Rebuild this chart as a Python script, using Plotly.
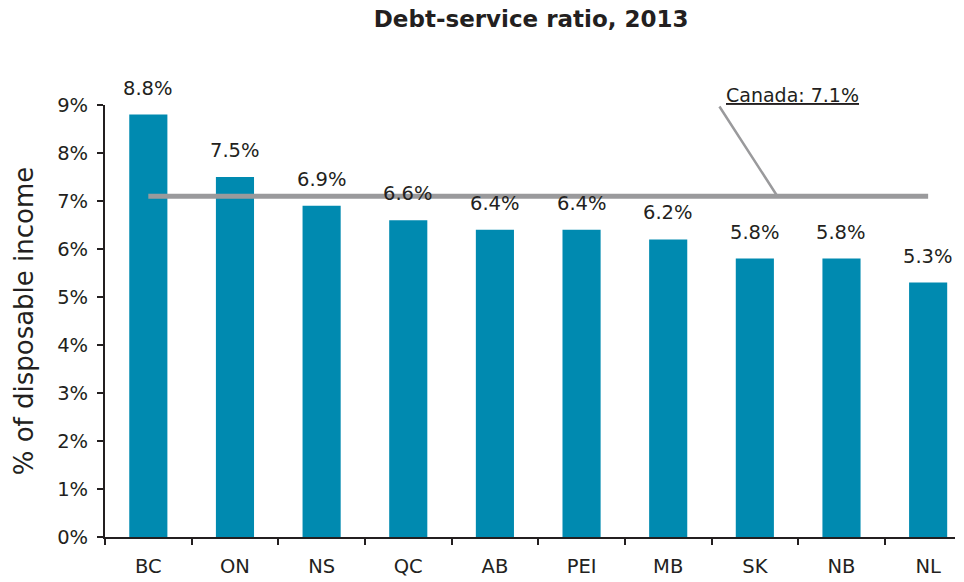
import plotly.graph_objects as go

provinces = ["BC", "ON", "NS", "QC", "AB", "PEI", "MB", "SK", "NB", "NL"]
debt_service = [8.8, 7.5, 6.9, 6.6, 6.4, 6.4, 6.2, 5.8, 5.8, 5.3]
canada_avg = 7.1
y_ticks = [0, 1, 2, 3, 4, 5, 6, 7, 8, 9]

text_color = "#231F20"
bar_color = "#008AB0"
line_color = "#9A9A9C"
font_family = "'DejaVu Sans', sans-serif"

fig = go.Figure()

fig.add_trace(go.Bar(
    x=provinces, y=debt_service,
    marker=dict(color=bar_color, line=dict(width=0)),
    hoverinfo="skip",
))

# national average line across province centres
fig.add_trace(go.Scatter(
    x=[provinces[0], provinces[-1]], y=[canada_avg, canada_avg],
    mode="lines", line=dict(color=line_color, width=5),
    hoverinfo="skip",
))

# value labels above bars
for p, v in zip(provinces, debt_service):
    fig.add_annotation(
        x=p, y=v, text=f"{v:.1f}%", showarrow=False,
        yanchor="bottom", yshift=13,
        font=dict(size=19.5, color=text_color, family=font_family),
    )

# leader for the national average label
fig.add_annotation(
    x=7.26, y=canada_avg, ax=6.58, ay=9.0, axref="x", ayref="y",
    xref="x", yref="y", text="", showarrow=True, arrowhead=0,
    arrowwidth=2.5, arrowcolor=line_color, standoff=0, startstandoff=0,
)
fig.add_annotation(
    x=6.64, y=9.0, xref="x", yref="y", text="<u>Canada: 7.1%</u>",
    showarrow=False, xanchor="left", yanchor="bottom", yshift=-3,
    font=dict(size=19, color=text_color, family=font_family),
)

fig.update_layout(
    width=964, height=582,
    margin=dict(l=105, r=9, t=105, b=45, autoexpand=False),
    plot_bgcolor="white", paper_bgcolor="white",
    showlegend=False, bargap=0.56,
    title=dict(
        text="<b>Debt-service ratio, 2013</b>", x=0.551, xanchor="center",
        y=0.968, yanchor="middle",
        font=dict(size=23, color=text_color, family=font_family),
    ),
    font=dict(family=font_family, color=text_color),
)

fig.update_xaxes(
    type="category", range=[-0.5, 9.31], automargin=False,
    showline=True, linecolor=text_color, linewidth=2,
    ticks="outside", tickson="boundaries", ticklen=6, tickwidth=2,
    tickcolor=text_color, showgrid=False, ticklabelstandoff=11,
    tickfont=dict(size=19.5, color=text_color, family=font_family),
)
fig.update_yaxes(
    range=[0, 9], tickvals=y_ticks, ticktext=[f"{t}%" for t in y_ticks],
    showline=True, linecolor=text_color, linewidth=2, automargin=False,
    ticks="outside", ticklen=6, tickwidth=2, tickcolor=text_color,
    showgrid=False, zeroline=False, ticklabelstandoff=5,
    tickfont=dict(size=19.5, color=text_color, family=font_family),
    title=dict(text="% of disposable income", standoff=16,
               font=dict(size=26, color=text_color, family=font_family)),
)

fig.write_html("out.html")
